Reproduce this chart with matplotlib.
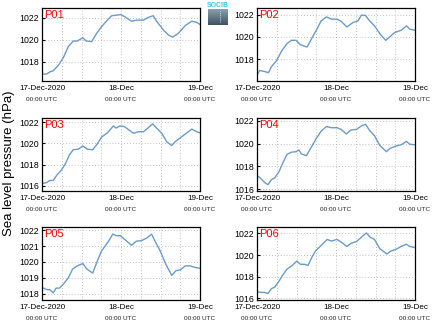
import numpy as np
import matplotlib
matplotlib.use("Agg")
import matplotlib.pyplot as plt
import matplotlib.transforms as mtransforms

plt.rcParams['font.family'] = ['Liberation Sans', 'DejaVu Sans']

# Sea level pressure (hPa) vs hours since 17-Dec-2020 00:00 UTC
p01_h = [0, 1.4, 2.4, 3.4, 5, 6.5, 8, 9.5, 10.7, 12.4, 13.4, 15.1, 16.6, 18.1, 19.7, 21.2, 22.7, 23.9,
         25.2, 27.2, 28.8, 30.8, 32.3, 33.8, 34.8, 36.9, 38.4, 39.7, 41.4, 43.5, 45.5, 47, 48]
p01_v = [1016.9, 1016.9, 1017.1, 1017.2, 1017.7, 1018.4, 1019.4, 1019.9, 1019.9, 1020.2, 1019.9, 1019.85,
         1020.6, 1021.2, 1021.75, 1022.2, 1022.25, 1022.3, 1022.1, 1021.7, 1021.8, 1021.8, 1022.05, 1022.2,
         1021.7, 1020.9, 1020.45, 1020.25, 1020.6, 1021.3, 1021.7, 1021.6, 1021.4]

p02_h = [0, 0.8, 2.3, 3.5, 4.4, 5.9, 7.4, 9.1, 10.4, 11.9, 13.2, 15.2, 16.5, 18, 19.5, 21.1, 22.6, 24.3,
         25.6, 27.3, 29.2, 30.7, 31.7, 32.9, 34.2, 35.7, 37.3, 39.1, 40.3, 41.8, 43.8, 45.4, 46.4, 48]
p02_v = [1016.6, 1017.0, 1016.9, 1016.8, 1017.35, 1017.85, 1018.7, 1019.4, 1019.7, 1019.7, 1019.3, 1019.1,
         1019.8, 1020.6, 1021.45, 1021.8, 1021.6, 1021.6, 1021.4, 1020.9, 1021.3, 1021.45, 1021.95, 1021.95,
         1021.45, 1021.0, 1020.3, 1019.7, 1020.0, 1020.4, 1020.6, 1021.0, 1020.7, 1020.6]

p03_h = [0, 1.4, 2.4, 3.4, 4.5, 5.7, 7, 8.3, 9.5, 11, 12.4, 13.8, 15.4, 16.8, 18.1, 19.9, 21.7, 22.5, 23.7,
         24.9, 26.3, 27.8, 29.3, 30.8, 32, 33.6, 34.8, 36.4, 37.9, 39.4, 40.4, 41.9, 43.8, 45.5, 47, 48]
p03_v = [1016.2, 1016.3, 1016.5, 1016.5, 1017.0, 1017.4, 1018.0, 1018.9, 1019.4, 1019.45, 1019.75, 1019.45,
         1019.4, 1019.95, 1020.6, 1021.0, 1021.65, 1021.45, 1021.65, 1021.6, 1021.3, 1020.95, 1021.1, 1021.1,
         1021.4, 1021.85, 1021.45, 1020.95, 1020.15, 1019.8, 1020.15, 1020.5, 1020.95, 1021.35, 1021.1, 1021.0]

p04_h = [0, 1, 2.3, 3.3, 4.4, 5.4, 6.7, 7.9, 9.1, 10.4, 11.9, 12.7, 13.5, 15, 16.5, 18, 19.5, 21.1, 22.6,
         24.3, 25.6, 27.1, 28.6, 30.2, 31.7, 33, 34.2, 35.7, 37.3, 39.3, 40.5, 42.3, 43.8, 45.4, 46.4, 48]
p04_v = [1017.2, 1017.0, 1016.6, 1016.4, 1016.85, 1017.0, 1017.55, 1018.35, 1019.05, 1019.25, 1019.3,
         1019.45, 1019.1, 1018.95, 1019.7, 1020.45, 1021.1, 1021.5, 1021.4, 1021.4, 1021.25, 1020.85, 1021.2,
         1021.25, 1021.55, 1021.7, 1021.15, 1020.7, 1019.85, 1019.3, 1019.6, 1019.8, 1019.9, 1020.2, 1019.95,
         1019.9]

p05_h = [0, 0.9, 1.6, 2.4, 3.4, 4.3, 5.3, 6.5, 8, 9.3, 10.7, 12.4, 13.6, 15.4, 16.8, 18.1, 19.9, 21.5, 22.7,
         23.9, 25.2, 27.2, 28.6, 30.3, 31.8, 33.3, 34.6, 35.9, 37.4, 38.4, 39.4, 40.7, 42.1, 43.5, 45, 46.5, 48]
p05_v = [1018.4, 1018.3, 1018.25, 1018.25, 1018.05, 1018.35, 1018.35, 1018.6, 1019.0, 1019.55, 1019.75,
         1019.9, 1019.55, 1019.3, 1020.05, 1020.7, 1021.2, 1021.75, 1021.65, 1021.65, 1021.4, 1021.05, 1021.3,
         1021.35, 1021.5, 1021.75, 1021.2, 1020.7, 1019.95, 1019.55, 1019.15, 1019.45, 1019.5, 1019.75,
         1019.75, 1019.65, 1019.6]

p06_h = [0, 1.3, 2.3, 3.3, 4.4, 5.4, 6.7, 7.7, 9.1, 10.7, 12.1, 13.2, 14.5, 15.5, 16.5, 17.8, 19.5, 21.3,
         22.6, 24.3, 25.6, 27.3, 28.6, 30.2, 31.7, 33.2, 34.4, 35.7, 37.3, 39.5, 40.5, 42.3, 43.8, 45.4, 46.4, 48]
p06_v = [1016.6, 1016.55, 1016.55, 1016.45, 1016.9, 1017.05, 1017.6, 1018.1, 1018.7, 1019.05, 1019.45,
         1019.15, 1019.15, 1019.05, 1019.7, 1020.4, 1020.9, 1021.45, 1021.3, 1021.45, 1021.2, 1020.8, 1021.1,
         1021.25, 1021.65, 1022.05, 1021.65, 1021.45, 1020.6, 1020.1, 1020.35, 1020.55, 1020.8, 1021.0,
         1020.8, 1020.7]

names = ["P01", "P02", "P03", "P04", "P05", "P06"]
hours = [p01_h, p02_h, p03_h, p04_h, p05_h, p06_h]
values = [p01_v, p02_v, p03_v, p04_v, p05_v, p06_v]
ylims = [(1016.27, 1022.9), (1016.05, 1022.6), (1015.5, 1022.4),
         (1015.85, 1022.25), (1017.6, 1022.2), (1015.85, 1022.6)]
yticks = [[1018, 1020, 1022], [1018, 1020, 1022], [1016, 1018, 1020, 1022],
          [1016, 1018, 1020, 1022], [1018, 1019, 1020, 1021, 1022], [1016, 1018, 1020, 1022]]
xtick_pos = [0, 24, 48]
xtick_lab = ["17-Dec-2020", "18-Dec", "19-Dec"]

W, H = 434, 327
fig = plt.figure(figsize=(W / 100, H / 100), dpi=100)

lefts = [42, 257]
tops = [8, 118, 227]
aw, ah = 158, 73

for k in range(6):
    r, c = divmod(k, 2)
    ax = fig.add_axes([lefts[c] / W, (H - tops[r] - ah) / H, aw / W, ah / H])
    ax.plot(hours[k], values[k], color="#6a9bc9", lw=1.0)
    ax.set_xlim(0, 48)
    ax.set_ylim(*ylims[k])
    ax.set_xticks(xtick_pos)
    ax.set_xticklabels(xtick_lab, fontsize=5.8)
    ax.set_xticks(np.arange(6, 48, 6), minor=True)
    ax.set_yticks(yticks[k])
    ax.tick_params(axis="y", labelsize=6.3, direction="in", length=2, pad=2)
    ax.tick_params(axis="x", which="both", length=0, pad=3)
    ax.grid(True, which="both", color="#b0b0b0", ls=(0, (1, 2.5)), lw=0.6)
    for s in ax.spines.values():
        s.set_linewidth(0.9)
    ax.text(0.012, 0.97, names[k], transform=ax.transAxes, color="red",
            fontsize=8, va="top", ha="left")
    trans = mtransforms.blended_transform_factory(ax.transData, ax.transAxes)
    for xp in xtick_pos:
        ax.text(xp, -0.225, "00:00 UTC", transform=trans, fontsize=4.6,
                ha="center", va="top", color="#222222")

fig.text(9 / W, 0.5, "Sea level pressure (hPa)", rotation=90, fontsize=9.5,
         ha="center", va="center")

# small logo box
lax = fig.add_axes([208 / W, (H - 25) / H, 20 / W, 16 / H])
grad = np.linspace(0, 1, 50).reshape(-1, 1)
lax.imshow(grad, aspect="auto", cmap=matplotlib.colors.LinearSegmentedColormap.from_list(
    "lg", ["#8aa0ad", "#3c5260"]), extent=[0, 1, 0, 1])
lax.plot([0.62, 0.62], [0.2, 0.85], color="white", lw=0.6, ls=(0, (1, 1.5)))
lax.axis("off")
fig.text(218 / W, (H - 5.5) / H, "SOCIB", color="#3ec3d8", fontsize=5,
         ha="center", va="center", weight="bold")

fig.savefig("out.png", dpi=100)
